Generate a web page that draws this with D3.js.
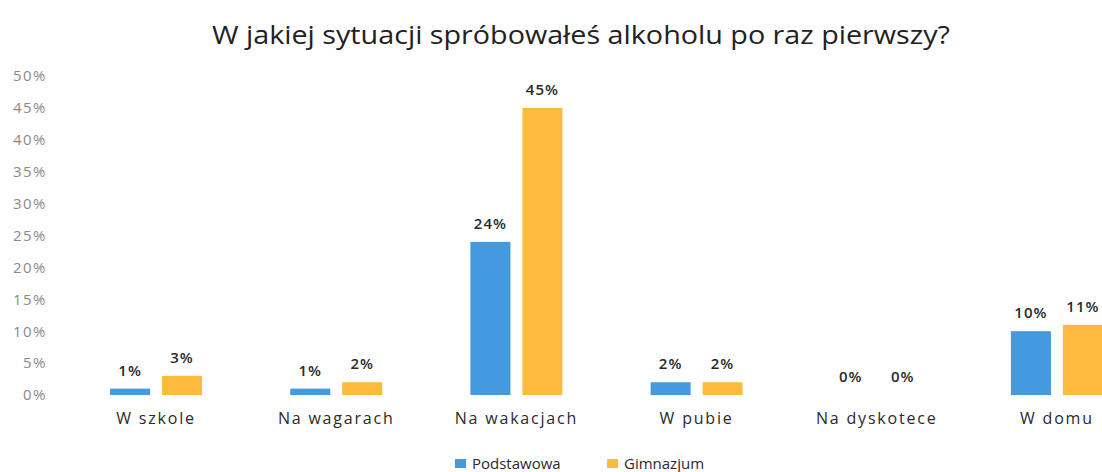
<!DOCTYPE html>
<html>
<head>
<meta charset="utf-8">
<script src="https://cdn.jsdelivr.net/npm/d3@7"></script>
<style>
  body { margin: 0; background: #fff; }
  text { font-family: "Open Sans", "Noto Sans", sans-serif; }
</style>
</head>
<body>
<div class="chart"></div>
<script>
var categories = ["W szkole", "Na wagarach", "Na wakacjach", "W pubie", "Na dyskotece", "W domu"];
var seriesNames = ["Podstawowa", "Gimnazjum"];
var podstawowa = [1, 1, 24, 2, 0, 10];
var gimnazjum = [3, 2, 45, 2, 0, 11];
var yTicks = [0, 5, 10, 15, 20, 25, 30, 35, 40, 45, 50];
var colors = ["#449ADF", "#FEBA3E"];

var svgWidth = 1102;
var svgHeight = 472;

var margin = { top: 76, right: -45, bottom: 77, left: 66 };
var width = svgWidth - margin.left - margin.right;
var height = svgHeight - margin.top - margin.bottom;

var svg = d3.select(".chart")
  .append("svg")
  .attr("width", svgWidth)
  .attr("height", svgHeight);

// title
svg.append("text")
  .attr("x", 581)
  .attr("y", 44)
  .attr("text-anchor", "middle")
  .attr("font-size", "25px")
  .attr("fill", "#222")
  .attr("textLength", 738)
  .attr("lengthAdjust", "spacingAndGlyphs")
  .text("W jakiej sytuacji spróbowałeś alkoholu po raz pierwszy?");

var chartGroup = svg.append("g")
  .attr("transform", `translate(${margin.left}, ${margin.top})`);

var xScale = d3.scaleBand()
  .domain(categories)
  .range([0, width]);

var xInner = d3.scaleBand()
  .domain(seriesNames)
  .range([xScale.bandwidth() / 2 - 46, xScale.bandwidth() / 2 + 46])
  .paddingInner(0.23);

var yScale = d3.scaleLinear()
  .domain([0, 50])
  .range([height, 0]);

// y axis (labels only)
var leftAxis = d3.axisLeft(yScale)
  .tickValues(yTicks)
  .tickFormat(d => d + "%")
  .tickSize(0)
  .tickPadding(19);

var yAxis = chartGroup.append("g").call(leftAxis);
yAxis.select(".domain").remove();
yAxis.selectAll("text")
  .attr("font-size", "15px")
  .attr("fill", "#8a8a8a")
  .attr("letter-spacing", "1.5px")
  .style("font-family", "\"Open Sans\", sans-serif");

// x axis (labels only)
var bottomAxis = d3.axisBottom(xScale).tickSize(0).tickPadding(18);
var xAxis = chartGroup.append("g")
  .attr("transform", `translate(0, ${height})`)
  .call(bottomAxis);
xAxis.select(".domain").remove();
xAxis.selectAll("text")
  .attr("font-size", "16px")
  .attr("fill", "#2a2a2a")
  .attr("letter-spacing", "1.8px")
  .style("font-family", "\"Open Sans\", sans-serif");

var rows = categories.map(function (c, i) {
  return { cat: c, values: [podstawowa[i], gimnazjum[i]] };
});

var groups = chartGroup.selectAll(".grp")
  .data(rows)
  .enter().append("g")
  .attr("class", "grp")
  .attr("transform", d => `translate(${xScale(d.cat)}, 0)`);

groups.selectAll("rect")
  .data(d => d.values.map((v, j) => ({ name: seriesNames[j], value: v, j: j })))
  .enter().append("rect")
  .attr("x", d => xInner(d.name))
  .attr("width", xInner.bandwidth())
  .attr("y", d => yScale(d.value))
  .attr("height", d => height - yScale(d.value))
  .attr("fill", d => colors[d.j]);

groups.selectAll(".lbl")
  .data(d => d.values.map((v, j) => ({ name: seriesNames[j], value: v })))
  .enter().append("text")
  .attr("class", "lbl")
  .attr("x", d => xInner(d.name) + xInner.bandwidth() / 2)
  .attr("y", d => yScale(d.value) - 13)
  .attr("text-anchor", "middle")
  .attr("font-size", "15px")
  .attr("font-weight", "600")
  .attr("letter-spacing", "1px")
  .attr("fill", "#2a2a2a")
  .text(d => d.value + "%");

// legend
var legend = svg.append("g").attr("transform", "translate(455, 464)");
var legendX = [0, 152];
seriesNames.forEach(function (name, j) {
  var item = legend.append("g").attr("transform", `translate(${legendX[j]}, 0)`);
  item.append("rect")
    .attr("x", 0)
    .attr("y", -5)
    .attr("width", 11)
    .attr("height", 9)
    .attr("fill", colors[j]);
  item.append("text")
    .attr("x", 17)
    .attr("y", 5)
    .attr("font-size", "15px")
    .attr("fill", "#2a2a2a")
    .text(name);
});
</script>
</body>
</html>
